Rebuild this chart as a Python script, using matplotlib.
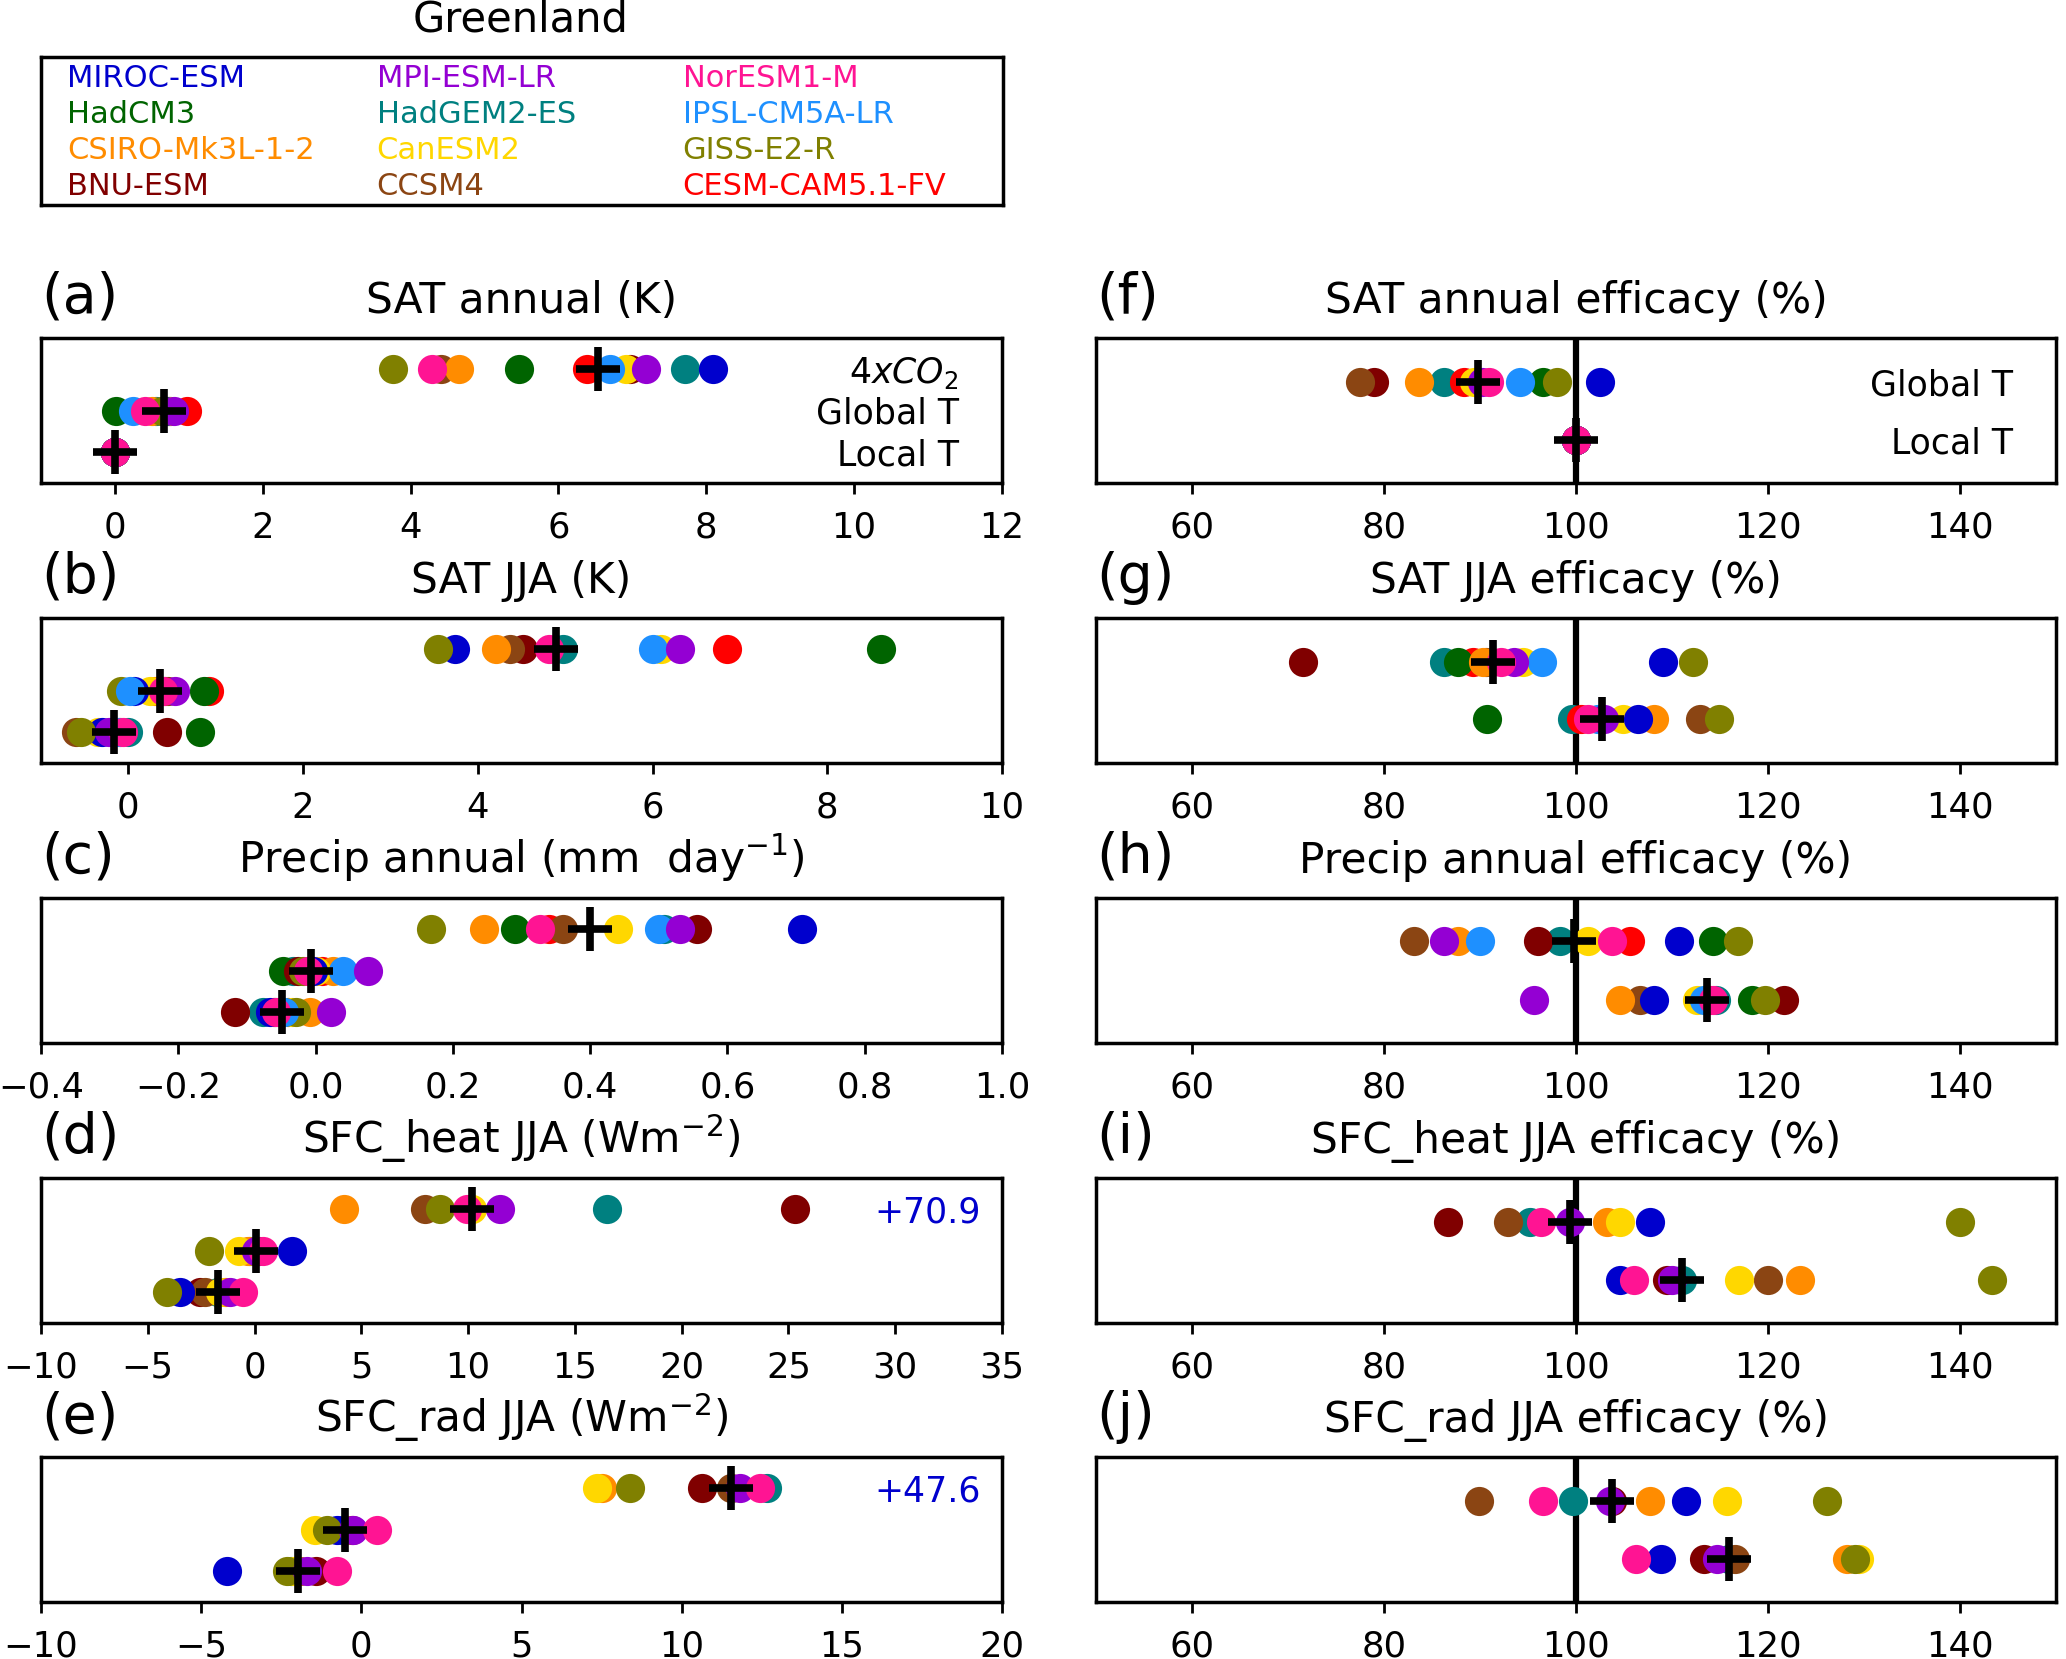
import numpy as np
import matplotlib
matplotlib.use('Agg')
import matplotlib.pyplot as plt

nan = np.nan

# legend order (column-major in the box)
models = ['MIROC-ESM', 'HadCM3', 'CSIRO-Mk3L-1-2', 'BNU-ESM',
          'MPI-ESM-LR', 'HadGEM2-ES', 'CanESM2', 'CCSM4',
          'NorESM1-M', 'IPSL-CM5A-LR', 'GISS-E2-R', 'CESM-CAM5.1-FV']
colors = ['mediumblue', 'darkgreen', 'darkorange', 'maroon',
          'darkviolet', 'teal', 'gold', 'saddlebrown',
          'deeppink', 'dodgerblue', 'olive', 'red']
# order in which the dots are drawn (later ones sit on top)
draw_order = ['HadGEM2-ES', 'CESM-CAM5.1-FV', 'HadCM3', 'BNU-ESM', 'CCSM4',
              'CSIRO-Mk3L-1-2', 'CanESM2', 'MIROC-ESM', 'GISS-E2-R',
              'IPSL-CM5A-LR', 'MPI-ESM-LR', 'NorESM1-M']

# values in legend order; nan = model not available
# (a) SAT annual (K)
sat_ann_4x = [8.09, 5.46, 4.65, 6.97, 7.18, 7.71, 6.92, 4.41, 4.29, 6.70, 3.76, 6.38]
sat_ann_glob = [0.68, 0.02, 0.50, 0.75, 0.80, 0.55, 0.70, 0.72, 0.41, 0.24, 0.64, 0.97]
sat_ann_loc = [0.0] * 12
# (b) SAT JJA (K)
sat_jja_4x = [3.74, 8.62, 4.21, 4.52, 6.31, 4.97, 6.10, 4.37, 4.82, 6.01, 3.54, 6.85]
sat_jja_glob = [0.06, 0.87, 0.30, 0.42, 0.53, 0.33, 0.25, 0.45, 0.40, 0.02, -0.08, 0.92]
sat_jja_loc = [-0.30, 0.82, -0.20, 0.44, -0.22, 0.0, -0.35, -0.60, -0.06, -0.12, -0.54, -0.10]
# (c) Precip annual (mm/day)
pr_ann_4x = [0.709, 0.29, 0.246, 0.555, 0.531, 0.507, 0.44, 0.361, 0.327, 0.50, 0.168, 0.34]
pr_ann_glob = [-0.004, -0.047, 0.026, -0.025, 0.076, -0.033, 0.0, -0.008, -0.011, 0.040, -0.018, 0.010]
pr_ann_loc = [-0.066, -0.06, -0.008, -0.118, 0.023, -0.076, -0.035, -0.04, -0.057, -0.046, -0.028, -0.052]
# (d) SFC_heat JJA (W m-2)
heat_4x = [70.9, nan, 4.2, 25.3, 11.5, 16.5, 10.2, 7.96, 9.93, nan, 8.68, nan]
heat_glob = [1.75, nan, -0.3, 0.12, 0.09, -0.2, -0.75, 0.2, 0.4, nan, -2.15, nan]
heat_loc = [-3.5, nan, -1.4, -2.56, -1.16, -1.72, -1.6, -2.3, -0.53, nan, -4.1, nan]
# (e) SFC_rad JJA (W m-2)
rad_4x = [47.6, nan, 7.5, 10.62, 11.83, 12.66, 7.35, 11.55, 12.45, nan, 8.39, nan]
rad_glob = [-0.75, nan, -0.52, -0.3, -0.25, -0.6, -1.45, -0.45, 0.48, nan, -1.08, nan]
rad_loc = [-4.2, nan, -1.98, -1.4, -1.71, -2.2, -2.1, -1.9, -0.77, nan, -2.33, nan]
# (f)-(j) efficacy (%)
eff_sat_ann_glob = [102.5, 96.6, 83.6, 79.0, 90.2, 86.2, 89.4, 77.5, 90.9, 94.2, 98.0, 88.3]
eff_sat_ann_loc = [100.0] * 12
eff_sat_jja_glob = [109.1, 87.7, 90.3, 71.6, 93.5, 86.3, 94.5, 90.6, 92.2, 96.5, 112.2, 89.3]
eff_sat_jja_loc = [106.5, 90.7, 108.1, 102.5, 102.9, 99.6, 104.9, 112.9, 101.3, 102.3, 114.9, 100.5]
eff_pr_glob = [110.7, 114.3, 87.7, 96.0, 86.2, 98.3, 101.25, 83.1, 103.75, 90.0, 116.9, 105.6]
eff_pr_loc = [108.1, 118.3, 104.6, 121.7, 95.6, 114.6, 112.6, 106.7, 114.3, 113.3, 119.7, 114.0]
eff_heat_glob = [107.7, nan, 103.2, 86.7, 99.4, 95.2, 104.6, 92.9, 96.4, nan, 140.0, nan]
eff_heat_loc = [104.6, nan, 123.3, 109.5, 110.0, 111.0, 117.0, 120.0, 106.0, nan, 143.3, nan]
eff_rad_glob = [111.5, nan, 107.7, 103.7, 103.5, 99.7, 115.7, 89.9, 96.6, nan, 126.1, nan]
eff_rad_loc = [108.9, nan, 128.2, 113.3, 114.7, 115.9, 129.5, 116.6, 106.3, nan, 129.1, nan]

fig = plt.figure(figsize=(20.66, 16.59), dpi=100)

W, H = 2066., 1659.
tops = [338, 618, 898, 1178, 1457]
ah = 145


def make_ax(col, row):
    if col == 0:
        x0, x1 = 41, 1002
    else:
        x0, x1 = 1096, 2056
    return fig.add_axes([x0 / W, 1 - (tops[row] + ah) / H, (x1 - x0) / W, ah / H])


def panel(ax, rows, xlim, xticks, title, label, rowlabels=None, vline=None):
    ny = len(rows)
    for k, vals in enumerate(rows):
        y = ny - k
        for name in draw_order:
            i = models.index(name)
            v = vals[i]
            if np.isnan(v):
                continue
            ax.plot(v, y, 'o', color=colors[i], ms=21, mew=0, zorder=3)
            if v > xlim[1]:
                # off-scale model: write its value instead
                ax.text(0.978, y, '+%.1f' % v, color=colors[i], fontsize=25,
                        ha='right', va='center_baseline',
                        transform=ax.get_yaxis_transform())
        ax.plot(np.nanmedian(vals), y, '+', color='k', ms=31, mew=5.5, zorder=5)
    if vline is not None:
        ax.axvline(vline, color='k', lw=4.5, zorder=1)
    if rowlabels:
        for k, lab in enumerate(rowlabels):
            ax.text(0.955, ny - k, lab, fontsize=25, ha='right',
                    va='center_baseline', transform=ax.get_yaxis_transform())
    ax.set_xlim(xlim)
    ax.set_ylim(0.25, ny + 0.75)
    ax.set_xticks(xticks)
    ax.set_yticks([])
    ax.tick_params(axis='x', direction='out', length=8, width=2,
                   labelsize=25.5, pad=12)
    for s in ax.spines.values():
        s.set_linewidth(2.5)
    ax.set_title(title, fontsize=30.5, pad=18)
    ax.set_title(label, loc='left', fontsize=40, pad=18)


ax = make_ax(0, 0)
panel(ax, [sat_ann_4x, sat_ann_glob, sat_ann_loc], (-1, 12), np.arange(0, 13, 2),
      'SAT annual (K)', '(a)', rowlabels=['$4xCO_2$', 'Global T', 'Local T'])
ax = make_ax(0, 1)
panel(ax, [sat_jja_4x, sat_jja_glob, sat_jja_loc], (-1, 10), np.arange(0, 11, 2),
      'SAT JJA (K)', '(b)')
ax = make_ax(0, 2)
panel(ax, [pr_ann_4x, pr_ann_glob, pr_ann_loc], (-0.4, 1.0),
      np.round(np.arange(-0.4, 1.01, 0.2), 1),
      'Precip annual (mm  day$^{-1}$)', '(c)')
ax = make_ax(0, 3)
panel(ax, [heat_4x, heat_glob, heat_loc], (-10, 35), np.arange(-10, 36, 5),
      'SFC_heat JJA (Wm$^{-2}$)', '(d)')
ax = make_ax(0, 4)
panel(ax, [rad_4x, rad_glob, rad_loc], (-10, 20), np.arange(-10, 21, 5),
      'SFC_rad JJA (Wm$^{-2}$)', '(e)')

eff_ticks = np.arange(60, 141, 20)
ax = make_ax(1, 0)
panel(ax, [eff_sat_ann_glob, eff_sat_ann_loc], (50, 150), eff_ticks,
      'SAT annual efficacy (%)', '(f)', rowlabels=['Global T', 'Local T'], vline=100)
ax = make_ax(1, 1)
panel(ax, [eff_sat_jja_glob, eff_sat_jja_loc], (50, 150), eff_ticks,
      'SAT JJA efficacy (%)', '(g)', vline=100)
ax = make_ax(1, 2)
panel(ax, [eff_pr_glob, eff_pr_loc], (50, 150), eff_ticks,
      'Precip annual efficacy (%)', '(h)', vline=100)
ax = make_ax(1, 3)
panel(ax, [eff_heat_glob, eff_heat_loc], (50, 150), eff_ticks,
      'SFC_heat JJA efficacy (%)', '(i)', vline=100)
ax = make_ax(1, 4)
panel(ax, [eff_rad_glob, eff_rad_loc], (50, 150), eff_ticks,
      'SFC_rad JJA efficacy (%)', '(j)', vline=100)

# model "legend" box
lax = fig.add_axes([41 / W, 1 - 205 / H, 962 / W, 148 / H])
lax.set_xticks([])
lax.set_yticks([])
for s in lax.spines.values():
    s.set_linewidth(2.5)
colx = [0.027, 0.349, 0.667]
rowy = [0.795, 0.556, 0.309, 0.068]
for i, (m, c) in enumerate(zip(models, colors)):
    lax.text(colx[i // 4], rowy[i % 4], m, color=c, fontsize=22,
             ha='left', va='baseline', transform=lax.transAxes)

fig.text(521 / W, 1 - 32 / H, 'Greenland', fontsize=30, ha='center', va='baseline')

fig.savefig('out.png', dpi=100)
